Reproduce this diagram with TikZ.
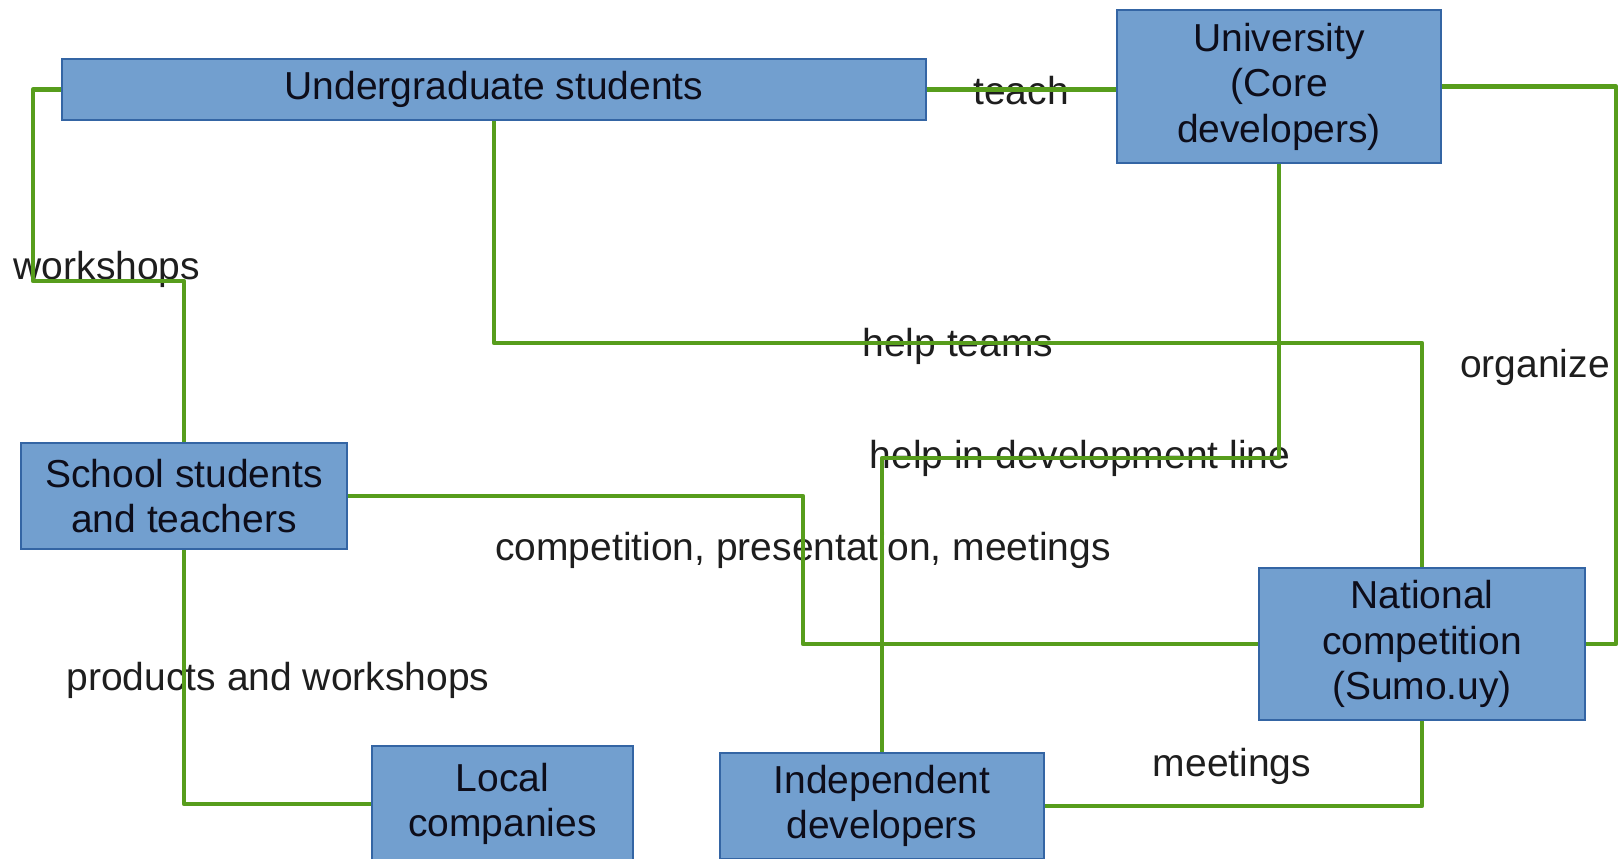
\documentclass[tikz,border=0pt]{standalone}
\usepackage{fontspec}
\setmainfont{Liberation Sans}
\begin{document}
\definecolor{boxfill}{HTML}{729FCF}
\definecolor{boxline}{HTML}{3465A4}
\definecolor{linkgreen}{HTML}{579D1C}
\definecolor{boxtext}{HTML}{0D0D1A}
\definecolor{labeltext}{HTML}{1E1E1E}
\begin{tikzpicture}[x=1pt,y=-1pt,
  actor/.style={draw=boxline,line width=1.2pt,fill=boxfill,inner sep=0pt,
    align=center,text=boxtext,font=\fontsize{39}{45.5}\selectfont},
  tag/.style={inner sep=0pt,text=labeltext,font=\fontsize{39}{45.5}\selectfont},
  link/.style={draw=linkgreen,line width=4.6pt,line join=round}]
\useasboundingbox (0,0) rectangle (1619,859);
\clip (0,0) rectangle (1619,859);

% actors
\node[actor,minimum width=864pt,minimum height=61pt] (ug) at (494,89.5) {Undergraduate students};
\node[actor,minimum width=324pt,minimum height=153pt] (uni) at (1279,86.5) {University\\(Core\\developers)};
\node[actor,minimum width=326pt,minimum height=106pt] (school) at (184,496) {School students\\and teachers};
\node[actor,minimum width=326pt,minimum height=152pt] (nat) at (1422,644) {National\\competition\\(Sumo.uy)};
\node[actor,minimum width=261pt,minimum height=116pt] (local) at (502.5,804) {Local\\companies};
\node[actor,minimum width=324pt,minimum height=106pt] (indep) at (882,806) {Independent\\developers};

% relation labels
\node[tag] (lworkshops) at (107,269) {workshops};
\node[tag] (lteach) at (1021,91) {teach};
\node[tag] (lhelpteams) at (958,346) {help teams};
\node[tag] (lhelpdev) at (1080,458) {help in development line};
\node[tag] (lorganize) at (1535,367) {organize};
\node[tag] (lcomp) at (803,550) {competition, presentation, meetings};
\node[tag] (lproducts) at (278,680) {products and workshops};
\node[tag] (lmeetings) at (1232,766) {meetings};

% connectors
\coordinate (w1) at (33,89.5);
\coordinate (w2) at (33,281);
\draw[link] (ug.west) -- (w1) -- (w2) -- (w2 -| school.north) -- (school.north);
\draw[link] (ug.east) -- (ug.east -| uni.west);
\coordinate (t1) at (494,343);
\draw[link] (ug.south) -- (t1) -- (t1 -| nat.north) -- (nat.north);
\coordinate (d1) at (1279,458);
\draw[link] (uni.south) -- (d1) -- (d1 -| indep.north) -- (indep.north);
\coordinate (o1) at (1616,86.5);
\draw[link] (uni.east) -- (o1) -- (o1 |- nat.east) -- (nat.east);
\coordinate (c1) at (803,496);
\draw[link] (school.east) -- (c1) -- (c1 |- nat.west) -- (nat.west);
\draw[link] (school.south) |- (local.west);
\draw[link] (indep.east) -| (nat.south);
\end{tikzpicture}
\end{document}
